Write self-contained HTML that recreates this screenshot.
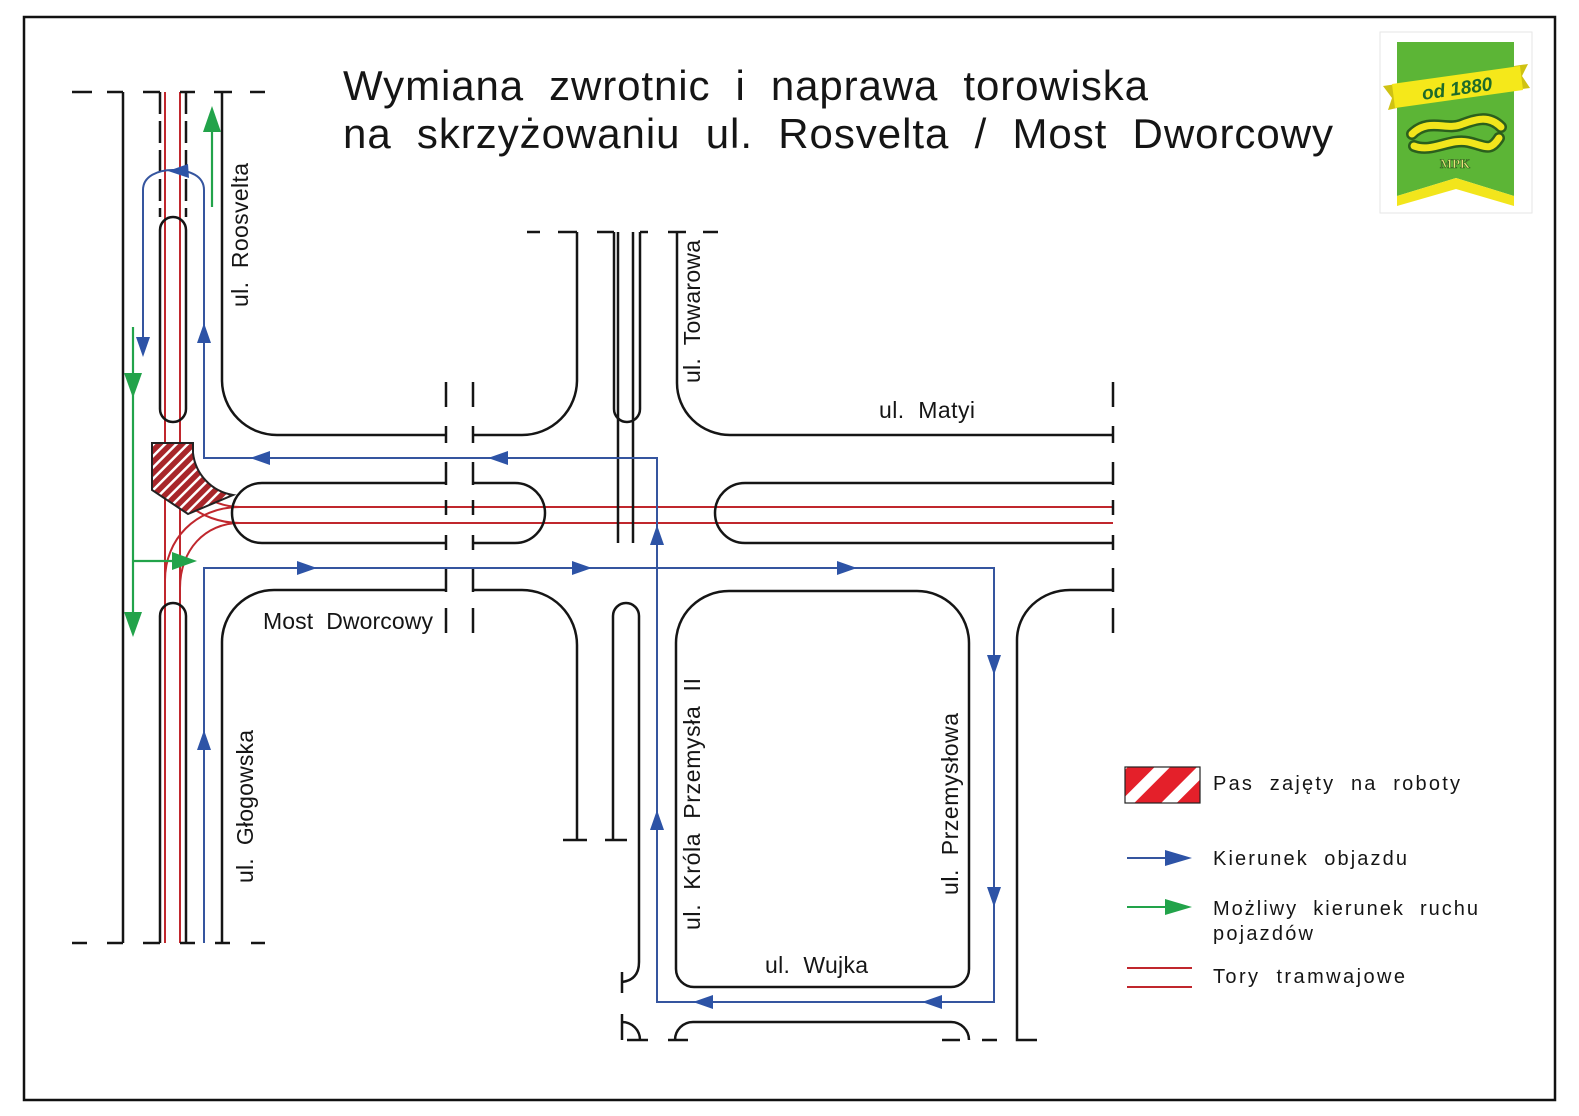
<!DOCTYPE html>
<html><head><meta charset="utf-8"><style>
html,body{margin:0;padding:0;background:#fff}
svg{display:block}
text{font-family:"Liberation Sans",sans-serif;fill:#151515;white-space:pre}
</style></head><body>
<svg width="1579" height="1116" viewBox="0 0 1579 1116" xmlns="http://www.w3.org/2000/svg" xml:space="preserve">
<defs>
<pattern id="hatch" width="8" height="8" patternUnits="userSpaceOnUse" patternTransform="rotate(-45)">
<rect width="8" height="8" fill="#fff"/><rect width="8" height="5.5" fill="#a8262a"/>
</pattern>
<pattern id="lhatch" width="30" height="30" patternUnits="userSpaceOnUse" patternTransform="translate(1125,767) rotate(-45)">
<rect width="30" height="30" fill="#fff"/><rect y="2" width="30" height="19" fill="#e4202a"/>
</pattern>
</defs>
<rect width="1579" height="1116" fill="#fff"/>
<rect x="24" y="17" width="1531" height="1083" fill="none" stroke="#111" stroke-width="2.5"/>

<!-- Title -->
<text x="343" y="100" font-size="42" textLength="805" lengthAdjust="spacing">Wymiana  zwrotnic  i  naprawa  torowiska</text>
<text x="343" y="148" font-size="42" textLength="990" lengthAdjust="spacing">na  skrzyżowaniu  ul.  Rosvelta  /  Most  Dworcowy</text>

<!-- Logo -->
<rect x="1380" y="32" width="152" height="181" fill="none" stroke="#e6e6e6" stroke-width="1"/>
<polygon points="1397,42 1514,42 1514,196 1456,178 1397,196" fill="#5cb536"/>
<polygon points="1397,196 1456,178 1514,196 1514,206 1456,189 1397,206" fill="#f2e51c"/>
<polygon points="1383,86 1397,84 1397,108 1388,110 1392,98" fill="#cfc212"/>
<polygon points="1514,66 1528,64 1522,76 1530,88 1514,90" fill="#cfc212"/>
<polygon points="1392,84 1520,66 1523,90 1395,108" fill="#f5e81a"/>
<text x="1457" y="95" font-size="19" font-weight="bold" font-style="italic" text-anchor="middle" transform="rotate(-8 1457 88)" style="fill:#1e6b2a">od 1880</text>
<path d="M1412 134 C1428 118 1446 130 1460 125 S1488 114 1501 127" fill="none" stroke="#2b5f1d" stroke-width="12" stroke-linecap="round"/>
<path d="M1412 134 C1428 118 1446 130 1460 125 S1488 114 1501 127" fill="none" stroke="#f2e51c" stroke-width="7" stroke-linecap="round"/>
<path d="M1414 146 C1432 153 1450 138 1468 142 S1490 152 1499 138" fill="none" stroke="#2b5f1d" stroke-width="12" stroke-linecap="round"/>
<path d="M1414 146 C1432 153 1450 138 1468 142 S1490 152 1499 138" fill="none" stroke="#f2e51c" stroke-width="7" stroke-linecap="round"/>
<text x="1455" y="168" font-size="13" font-weight="bold" text-anchor="middle" style="fill:#e8e27a;stroke:#2b5f1d;stroke-width:0.6;font-family:'Liberation Serif',serif">MPK</text>

<!-- Red tram tracks -->
<g stroke="#c0272d" stroke-width="2" fill="none">
<line x1="165" y1="92" x2="165" y2="943"/>
<line x1="180" y1="92" x2="180" y2="943"/>
<line x1="240" y1="507" x2="1113" y2="507"/>
<line x1="240" y1="523" x2="1113" y2="523"/>
<path d="M240 523 C200 523 165 495 165 455"/>
<path d="M240 507 C210 507 180 485 180 455"/>
<path d="M240 507 C195 507 165 540 165 580"/>
<path d="M240 523 C205 523 180 550 180 588"/>
</g>

<!-- Black road lines -->
<g stroke="#151515" stroke-width="2.5" fill="none">
<line x1="123" y1="92" x2="123" y2="943"/>
<path d="M222 92 L222 380 A55 55 0 0 0 277 435 L446 435"/>
<path d="M446 590 L274 590 A52 52 0 0 0 222 642 L222 943"/>
<line x1="160" y1="92" x2="160" y2="217" stroke-dasharray="22 7"/>
<line x1="186" y1="92" x2="186" y2="217" stroke-dasharray="22 7"/>
<path d="M160 230 A13 13 0 0 1 186 230 L186 409 A13 13 0 0 1 160 409 Z"/>
<path d="M160 943 L160 616 A13 13 0 0 1 186 616 L186 943"/>
<path d="M72 92 H92 M107 92 H123 M143 92 H160 M180 92 H195 M214 92 H232 M250 92 H265"/>
<path d="M72 943 H87 M107 943 H123 M143 943 H160 M180 943 H195 M215 943 H230 M251 943 H265"/>
<path d="M446 483 L262 483 A30 30 0 0 0 262 543 L446 543"/>
<path d="M473 483 L515 483 A30 30 0 0 1 515 543 L473 543"/>
<path d="M446 382 V407 M446 426 V443 M446 462 V485 M446 500 V515 M446 535 V550 M446 568 V592 M446 608 V633"/>
<path d="M473 382 V407 M473 426 V443 M473 462 V485 M473 500 V515 M473 535 V550 M473 568 V592 M473 608 V633"/>
<path d="M1113 382 V407 M1113 426 V443 M1113 462 V485 M1113 500 V515 M1113 535 V550 M1113 568 V592 M1113 608 V633"/>
<path d="M473 435 L522 435 A55 55 0 0 0 577 380 L577 232"/>
<path d="M677 232 L677 383 A53 52 0 0 0 730 435 L1113 435"/>
<path d="M614 232 L614 409 A13 13 0 0 0 640 409 L640 232"/>
<line x1="618" y1="232" x2="618" y2="543"/>
<line x1="633" y1="232" x2="633" y2="543"/>
<path d="M527 232 H540 M558 232 H577 M597 232 H614 M640 232 H648 M668 232 H686 M703 232 H718"/>
<path d="M1113 483 L745 483 A30 30 0 0 0 745 543 L1113 543"/>
<path d="M473 590 L522 590 A55 55 0 0 1 577 645 L577 840"/>
<line x1="563" y1="840" x2="587" y2="840"/>
<path d="M613 840 L613 616 A13 13 0 0 1 639 616 L639 962 Q639 980 622 982"/>
<line x1="605" y1="840" x2="627" y2="840"/>
<line x1="622" y1="972" x2="622" y2="993"/>
<path d="M676 643 A53 52 0 0 1 729 591 L917 591 A52 52 0 0 1 969 643 L969 969 A18 18 0 0 1 951 987 L694 987 A18 18 0 0 1 676 969 Z"/>
<path d="M1113 590 L1070 590 A53 50 0 0 0 1017 640 L1017 1040 L1037 1040"/>
<line x1="622" y1="1014" x2="622" y2="1040"/>
<path d="M622 1022 A18 18 0 0 1 640 1040"/>
<path d="M627 1040 H648 M668 1040 H688"/>
<path d="M675 1040 A18 18 0 0 1 693 1022 L951 1022 A18 18 0 0 1 969 1040"/>
<path d="M942 1040 H960 M982 1040 H997"/>
</g>

<!-- Hatch (work area) -->
<path d="M152 443 L193 443 L193 453 A48 48 0 0 0 233 495 L188 514 L152 490 Z" fill="url(#hatch)" stroke="#222" stroke-width="2"/>

<!-- Blue detour -->
<g stroke="#35559f" stroke-width="2" fill="none">
<path d="M143 350 L143 190 C143 176 158 170 173 170 C190 170 204 176 204 190 L204 458 L657 458 L657 1002 L994 1002 L994 568 L204 568 L204 943"/>
</g>
<g fill="#2d53a6">
<polygon points="250,458 270,451 270,465"/>
<polygon points="488,458 508,451 508,465"/>
<polygon points="317,568 297,561 297,575"/>
<polygon points="592,568 572,561 572,575"/>
<polygon points="857,568 837,561 837,575"/>
<polygon points="994,675 987,655 1001,655"/>
<polygon points="994,907 987,887 1001,887"/>
<polygon points="143,357 136,337 150,337"/>
<polygon points="693,1002 713,995 713,1009"/>
<polygon points="922,1002 942,995 942,1009"/>
<polygon points="657,525 650,545 664,545"/>
<polygon points="657,810 650,830 664,830"/>
<polygon points="204,323 197,343 211,343"/>
<polygon points="204,730 197,750 211,750"/>
<polygon points="168,171 188,164 189,178"/>
</g>

<!-- Green -->
<g stroke="#22a34a" stroke-width="2.2" fill="none">
<line x1="212" y1="207" x2="212" y2="125"/>
<line x1="133" y1="327" x2="133" y2="620"/>
<line x1="133" y1="561" x2="180" y2="561"/>
</g>
<g fill="#22a34a">
<polygon points="212,106 203,132 221,132"/>
<polygon points="133,398 124,373 142,373"/>
<polygon points="133,637 124,612 142,612"/>
<polygon points="197,561 172,552 172,570"/>
</g>

<!-- Street labels -->
<g font-size="23">
<text transform="translate(248,307) rotate(-90)" textLength="144" lengthAdjust="spacing">ul.  Roosvelta</text>
<text transform="translate(700,383) rotate(-90)" textLength="143" lengthAdjust="spacing">ul.  Towarowa</text>
<text transform="translate(253,883) rotate(-90)" textLength="153" lengthAdjust="spacing">ul.  Głogowska</text>
<text transform="translate(700,930) rotate(-90)" textLength="252" lengthAdjust="spacing">ul.  Króla  Przemysła  II</text>
<text transform="translate(958,895) rotate(-90)" textLength="182" lengthAdjust="spacing">ul.  Przemysłowa</text>
<text x="879" y="418" textLength="96" lengthAdjust="spacing">ul.  Matyi</text>
<text x="263" y="629" textLength="170" lengthAdjust="spacing">Most  Dworcowy</text>
<text x="765" y="973" textLength="103" lengthAdjust="spacing">ul.  Wujka</text>
</g>

<!-- Legend -->
<rect x="1125" y="767" width="75" height="36" fill="url(#lhatch)" stroke="#222" stroke-width="1.2"/>
<line x1="1127" y1="858" x2="1170" y2="858" stroke="#35559f" stroke-width="2"/>
<polygon points="1192,858 1165,850 1165,866" fill="#2d53a6"/>
<line x1="1127" y1="907" x2="1170" y2="907" stroke="#22a34a" stroke-width="2"/>
<polygon points="1192,907 1165,899 1165,915" fill="#22a34a"/>
<line x1="1127" y1="968" x2="1192" y2="968" stroke="#c0272d" stroke-width="2"/>
<line x1="1127" y1="987" x2="1192" y2="987" stroke="#c0272d" stroke-width="2"/>
<g font-size="20">
<text x="1213" y="790" textLength="247" lengthAdjust="spacing">Pas  zajęty  na  roboty</text>
<text x="1213" y="865" textLength="194" lengthAdjust="spacing">Kierunek  objazdu</text>
<text x="1213" y="915" textLength="265" lengthAdjust="spacing">Możliwy  kierunek  ruchu</text>
<text x="1213" y="940" textLength="100" lengthAdjust="spacing">pojazdów</text>
<text x="1213" y="983" textLength="192" lengthAdjust="spacing">Tory  tramwajowe</text>
</g>
</svg>
</body></html>
